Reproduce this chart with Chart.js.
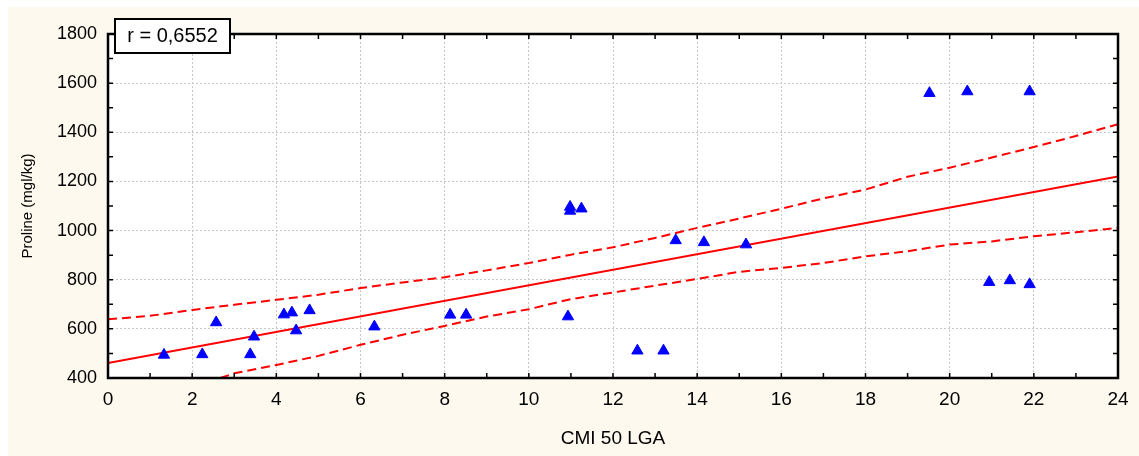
<!DOCTYPE html>
<html>
<head>
<meta charset="utf-8">
<script src="https://cdn.jsdelivr.net/npm/chart.js@4/dist/chart.umd.min.js"></script>
<style>
  body { margin: 0; background: #ffffff; }
  canvas { display: block; }
</style>
</head>
<body>
<canvas id="scatter" width="1139" height="456"></canvas>
<script>
// observed points (CMI 50 LGA vs Proline)
const cmiValues = [1.33, 2.24, 2.57, 3.38, 3.47, 4.18, 4.37, 4.47, 4.79, 6.33,
  8.13, 8.51, 10.93, 10.98, 10.98, 11.25, 12.58, 13.2, 13.49, 14.16,
  15.16, 19.52, 20.42, 20.94, 21.43, 21.9, 21.9];
const prolineValues = [494, 496, 626, 496, 568, 658, 666, 593, 675, 609,
  657, 657, 650, 1096, 1080, 1089, 511, 511, 960, 952,
  943, 1559, 1566, 790, 797, 1566, 781];

// fitted line
const fitX = [0, 24];
const fitY = [461, 1220];

// confidence band, upper and lower
const upperX = [0, 1, 2, 3, 4, 5, 6, 7, 8, 9, 10, 11, 12, 13, 14, 15, 16, 17, 18, 19, 20, 21, 22, 23, 24];
const upperY = [639, 653, 677, 698, 718, 739, 766, 789, 810, 838, 868, 902, 932, 970, 1011, 1049, 1089, 1131, 1167, 1219, 1256, 1297, 1340, 1385, 1433];
const lowerX = [2.67, 3, 4, 5, 6, 7, 8, 9, 10, 11, 12, 13, 14, 15, 16, 17, 18, 19, 20, 21, 22, 23, 24];
const lowerY = [400, 419, 453, 490, 535, 576, 612, 650, 680, 721, 748, 776, 803, 832, 848, 868, 895, 916, 943, 956, 977, 993, 1011];

const xTicks = [0, 2, 4, 6, 8, 10, 12, 14, 16, 18, 20, 22, 24];
const yTicks = [400, 600, 800, 1000, 1200, 1400, 1600, 1800];
const rLabel = 'r = 0,6552';

function pairs(xs, ys) {
    return xs.map(function (x, i) { return {x: x, y: ys[i]}; });
}

const framePlugin = {
    id: 'frame',
    beforeDraw: function (chart) {
        const ctx = chart.ctx;
        ctx.save();
        ctx.fillStyle = '#fdf9ef';
        ctx.fillRect(8, 7, chart.width - 8, chart.height - 7);
        ctx.fillStyle = '#ffffff';
        const a = chart.chartArea;
        ctx.fillRect(a.left, a.top, a.right - a.left, a.bottom - a.top);
        ctx.restore();
    },
    afterDraw: function (chart) {
        const ctx = chart.ctx;
        const a = chart.chartArea;
        const xs = chart.scales.x;
        const ys = chart.scales.y;
        ctx.save();
        ctx.strokeStyle = '#000000';
        ctx.lineWidth = 1.5;
        ctx.beginPath();
        // minor and major ticks, pointing inwards on all four sides
        for (let v = 0; v <= 24; v++) {
            const px = xs.getPixelForValue(v);
            ctx.moveTo(px, a.bottom); ctx.lineTo(px, a.bottom - 5);
            ctx.moveTo(px, a.top); ctx.lineTo(px, a.top + 5);
        }
        for (let v = 400; v <= 1800; v += 100) {
            const py = ys.getPixelForValue(v);
            ctx.moveTo(a.left, py); ctx.lineTo(a.left + 5, py);
            ctx.moveTo(a.right, py); ctx.lineTo(a.right - 5, py);
        }
        ctx.stroke();
        ctx.lineWidth = 2.5;
        ctx.strokeRect(a.left, a.top, a.right - a.left, a.bottom - a.top);

        // r box
        ctx.fillStyle = '#ffffff';
        ctx.fillRect(115, 19, 115, 34);
        ctx.lineWidth = 2;
        ctx.strokeRect(115, 19, 115, 34);
        ctx.fillStyle = '#000000';
        ctx.font = '20px "Liberation Sans", Arial, sans-serif';
        ctx.textAlign = 'center';
        ctx.textBaseline = 'middle';
        ctx.fillText(rLabel, 172.5, 36.5);
        ctx.restore();
    }
};

const config = {
    type: 'scatter',
    data: {
        datasets: [
            {
                label: 'Proline',
                data: pairs(cmiValues, prolineValues),
                pointStyle: 'triangle',
                pointRadius: 6.5,
                pointBackgroundColor: '#0000ff',
                pointBorderColor: '#0000ff',
                pointBorderWidth: 1,
                order: 0
            },
            {
                label: 'fit',
                data: pairs(fitX, fitY),
                showLine: true,
                borderColor: '#ff0000',
                borderWidth: 2,
                pointRadius: 0,
                order: 1
            },
            {
                label: 'upper',
                data: pairs(upperX, upperY),
                showLine: true,
                borderColor: '#ff0000',
                borderWidth: 2,
                borderDash: [9, 5],
                pointRadius: 0,
                order: 2
            },
            {
                label: 'lower',
                data: pairs(lowerX, lowerY),
                showLine: true,
                borderColor: '#ff0000',
                borderWidth: 2,
                borderDash: [9, 5],
                pointRadius: 0,
                order: 3
            }
        ]
    },
    options: {
        responsive: false,
        animation: false,
        layout: {
            padding: {top: 34, right: 21, left: 0, bottom: 0}
        },
        plugins: {
            legend: {display: false},
            tooltip: {enabled: false}
        },
        scales: {
            x: {
                type: 'linear',
                min: 0,
                max: 24,
                afterBuildTicks: function (scale) {
                    scale.ticks = xTicks.map(function (v) { return {value: v}; });
                },
                afterFit: function (scale) { scale.height = 78; },
                ticks: {
                    color: '#000000',
                    padding: 10,
                    maxRotation: 0,
                    callback: function (v) { return String(v); },
                    font: {family: '"Liberation Sans", Arial, sans-serif', size: 19}
                },
                grid: {color: '#c8c8c8', lineWidth: 1, drawTicks: false},
                border: {display: false, dash: [2, 2]},
                title: {
                    display: true,
                    text: 'CMI 50 LGA',
                    color: '#000000',
                    padding: {top: 0, bottom: 6},
                    font: {family: '"Liberation Sans", Arial, sans-serif', size: 19}
                }
            },
            y: {
                type: 'linear',
                min: 400,
                max: 1800,
                afterBuildTicks: function (scale) {
                    scale.ticks = yTicks.map(function (v) { return {value: v}; });
                },
                afterFit: function (scale) { scale.width = 108; },
                ticks: {
                    color: '#000000',
                    padding: 11,
                    callback: function (v) { return String(v); },
                    font: {family: '"Liberation Sans", Arial, sans-serif', size: 18}
                },
                grid: {color: '#c8c8c8', lineWidth: 1, drawTicks: false},
                border: {display: false, dash: [2, 2]},
                title: {
                    display: true,
                    text: 'Proline (mgl/kg)',
                    color: '#000000',
                    padding: {top: 19, bottom: 0},
                    font: {family: '"Liberation Sans", Arial, sans-serif', size: 15}
                }
            }
        }
    },
    plugins: [framePlugin]
};

new Chart(document.getElementById('scatter'), config);
</script>
</body>
</html>
